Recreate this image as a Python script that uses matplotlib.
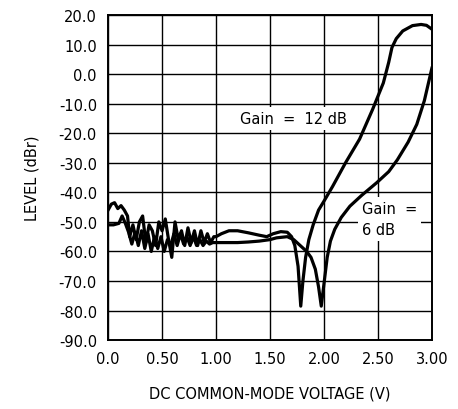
import matplotlib
matplotlib.use("Agg")
import matplotlib.pyplot as plt

# Gain = 12 dB curve (voltage V, level dBr)
v_12db = [0.00, 0.03, 0.06, 0.09, 0.12, 0.15, 0.18, 0.20, 0.23, 0.26, 0.29, 0.32,
          0.35, 0.38, 0.41, 0.44, 0.47, 0.50, 0.53, 0.56, 0.59, 0.62, 0.65, 0.68,
          0.71, 0.74, 0.77, 0.80, 0.83, 0.86, 0.89, 0.92, 0.95, 0.98, 1.00,
          1.05, 1.12, 1.20, 1.30, 1.40, 1.47, 1.53, 1.60, 1.66, 1.70, 1.73, 1.76,
          1.785, 1.805, 1.83, 1.86, 1.90, 1.95, 2.00, 2.08, 2.20, 2.33, 2.45,
          2.55, 2.60, 2.63, 2.67, 2.73, 2.82, 2.90, 2.95, 3.00]
lvl_12db = [-46, -44, -43.5, -45.5, -44.5, -46, -48, -55, -51, -56, -50, -48,
            -57, -51, -53, -58, -50, -53, -49, -56, -62, -50, -56, -53,
            -58, -52, -57, -53, -58, -53, -57, -54, -57, -55, -55,
            -54, -53, -53, -53.7, -54.5, -55, -54, -53.3, -53.5, -55, -58, -65,
            -78.5, -70, -62, -56, -51, -46, -43, -38, -30, -22, -12,
            -3, 4, 9, 12, 14.6, 16.4, 16.8, 16.5, 15.2]

# Gain = 6 dB curve
v_6db = [0.00, 0.05, 0.10, 0.13, 0.16, 0.19, 0.22, 0.25, 0.28, 0.31, 0.34, 0.37,
         0.40, 0.43, 0.46, 0.49, 0.52, 0.55, 0.58, 0.61, 0.64, 0.67, 0.70, 0.73,
         0.76, 0.79, 0.82, 0.85, 0.88, 0.91, 0.94, 0.97, 1.00,
         1.10, 1.20, 1.30, 1.40, 1.50, 1.56, 1.66, 1.72, 1.78, 1.84, 1.88, 1.92,
         1.95, 1.975, 2.00, 2.03, 2.06, 2.10, 2.16, 2.24, 2.35, 2.49, 2.60, 2.68,
         2.78, 2.86, 2.93, 3.00]
lvl_6db = [-51, -51, -50.5, -48, -50.5, -53.5, -57.5, -53.5, -58, -53, -59, -54,
           -60, -55, -59, -55, -60, -56, -58, -54, -58, -54, -57.5, -55,
           -58, -55, -58, -56, -58, -56.5, -57.5, -57, -57,
           -57, -57, -56.8, -56.5, -56, -55.4, -55, -56, -58, -60, -62, -66,
           -72, -78.5, -71, -62, -56.5, -52.5, -48.5, -44.7, -41, -36.7, -33, -29,
           -23, -17, -9, 2]

x_ticks = [0.0, 0.5, 1.0, 1.5, 2.0, 2.5, 3.0]
x_labels = ["0.0", "0.50", "1.00", "1.50", "2.00", "2.50", "3.00"]
y_ticks = list(range(-90, 21, 10))
y_labels = ["%.1f" % v for v in y_ticks]

fig = plt.figure(figsize=(4.58, 4.10), dpi=100)
ax = fig.add_axes([0.236, 0.168, 0.707, 0.793])

ax.plot(v_12db, lvl_12db, color="black", lw=2.3, solid_joinstyle="round", zorder=3)
ax.plot(v_6db, lvl_6db, color="black", lw=2.3, solid_joinstyle="round", zorder=3)

ax.set_xlim(0, 3.0)
ax.set_ylim(-90, 20)
ax.set_xticks(x_ticks)
ax.set_xticklabels(x_labels)
ax.set_yticks(y_ticks)
ax.set_yticklabels(y_labels)
ax.tick_params(length=0, labelsize=10.5, pad=8)
ax.grid(True, color="black", lw=1.0)
ax.set_axisbelow(True)
for s in ax.spines.values():
    s.set_linewidth(1.4)

ax.set_xlabel("DC COMMON-MODE VOLTAGE (V)", fontsize=10.5, labelpad=14)
ax.set_ylabel("LEVEL (dBr)", fontsize=10.5, labelpad=14)

box = dict(facecolor="white", edgecolor="none", pad=3)
ax.text(1.22, -15, "Gain  =  12 dB", fontsize=10.5, va="center", ha="left",
        bbox=box, zorder=2)
ax.text(2.35, -49, "Gain  =\n6 dB", fontsize=10.5, va="center", ha="left",
        linespacing=1.5, bbox=box, zorder=2)

fig.savefig("out.png", dpi=100)
